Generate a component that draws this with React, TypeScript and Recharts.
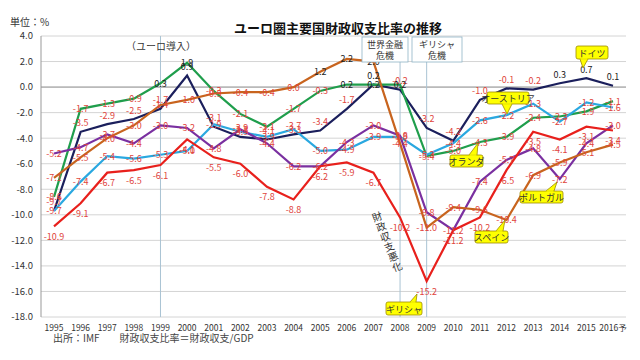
import React from 'react';
import { LineChart, Line, XAxis, YAxis, CartesianGrid, ReferenceLine, LabelList } from 'recharts';

const years = ['1995','1996','1997','1998','1999','2000','2001','2002','2003','2004','2005','2006','2007','2008','2009','2010','2011','2012','2013','2014','2015','2016予'];
const germany = [-9.7,-3.5,-2.9,-2.5,-1.7,0.9,-3.1,-3.9,-4.1,-3.7,-3.4,-1.7,0.2,-0.2,-3.2,-4.2,-1.0,-0.1,-0.2,0.3,0.7,0.1];
const netherlands = [-8.6,-1.7,-1.3,-0.9,0.3,1.9,-0.3,-2.1,-3.1,-1.7,-0.3,0.2,0.2,0.2,-5.4,-5.0,-4.3,-3.9,-2.4,-2.3,-1.9,-1.1];
const austria = [-9.7,-7.4,-5.4,-5.6,-5.3,-5.0,-2.9,-3.5,-3.9,-3.3,-5.0,-4.9,-3.9,-3.9,-5.3,-4.4,-2.6,-2.2,-1.3,-2.7,-1.2,-1.6];
const portugal = [-5.2,-4.7,-3.7,-4.4,-3.0,-3.2,-4.8,-3.3,-4.4,-6.2,-6.2,-4.3,-3.0,-3.8,-9.8,-11.2,-7.4,-5.7,-4.8,-7.2,-4.4,-3.0];
const spain = [-7.1,-5.5,-4.0,-3.0,-1.4,-1.0,-0.5,-0.4,-0.4,0.0,1.2,2.2,2.0,-4.4,-11.0,-9.4,-9.6,-10.4,-6.9,-5.9,-5.1,-4.5];
const greece = [-10.9,-9.1,-6.7,-6.5,-6.1,-4.1,-5.5,-6.0,-7.8,-8.8,-6.2,-5.9,-6.7,-10.2,-15.2,-11.2,-10.2,-6.5,-3.5,-4.1,-3.1,-3.4];
const yTicks = [4,2,0,-2,-4,-6,-8,-10,-12,-14,-16,-18];

const data = years.map((y, i) => ({
  year: y,
  de: germany[i],
  nl: netherlands[i],
  at: austria[i],
  pt: portugal[i],
  es: spain[i],
  gr: greece[i],
}));

const FONT = '"Noto Sans CJK JP", "Noto Sans", sans-serif';

function makeLabel(dy: number) {
  return (p: any) => {
    const { x, y, value } = p;
    if (value == null) return null;
    const red = value <= 0;
    return (
      <text x={x} y={y + dy} textAnchor="middle" dominantBaseline="central" fontSize={9}
        fill={red ? '#e0443c' : '#222'} fontFamily={FONT}>
        {Number(value).toFixed(1)}
      </text>
    );
  };
}

const series = [
  { key: 'de', color: '#1b1f5c', dy: -9 },
  { key: 'nl', color: '#1f9e4c', dy: 0 },
  { key: 'at', color: '#2aa8e0', dy: 0 },
  { key: 'pt', color: '#7a30a0', dy: 0 },
  { key: 'es', color: '#c8641e', dy: 0 },
  { key: 'gr', color: '#e8201c', dy: 10 },
];

function Callout({ x, y, w, h, text, bx1, bx2, by, tx, ty }: any) {
  return (
    <g>
      <path d={`M${bx1},${by} L${tx},${ty} L${bx2},${by}`} fill="#ffff00" stroke="#9c8c00" strokeWidth={0.8} />
      <rect x={x} y={y} width={w} height={h} rx={2} fill="#ffff00" stroke="#9c8c00" strokeWidth={0.8} />
      <line x1={bx1 + 0.6} y1={by} x2={bx2 - 0.6} y2={by} stroke="#ffff00" strokeWidth={1.4} />
      <text x={x + w / 2} y={y + h / 2 + 0.5} textAnchor="middle" dominantBaseline="central" fontSize={9} fill="#333" fontFamily={FONT}>{text}</text>
    </g>
  );
}

const slantChars = ['財', '政', '収', '支', '悪', '化'];

export default function App() {
  return (
    <div style={{ position: 'absolute', left: 0, top: 0, width: 640, height: 360, background: '#fff', fontFamily: FONT }}>
      <LineChart width={640} height={360} data={data} margin={{ top: 36, right: 14, bottom: 23, left: 6 }}>
        <CartesianGrid vertical={false} stroke="#d4d4d4" />
        <XAxis dataKey="year" interval={0} padding={{ left: 13, right: 13 }} axisLine={false} tickLine={false}
          height={20} tick={{ fontSize: 8.5, fill: '#333', fontFamily: FONT }} tickMargin={2} />
        <YAxis domain={[-18, 4]} ticks={yTicks} width={35} axisLine={{ stroke: '#999' }} tickLine={false}
          tickFormatter={(v: number) => v.toFixed(1)} tick={{ fontSize: 9.5, fill: '#333', fontFamily: FONT }} />
        <ReferenceLine y={0} stroke="#9a9a9a" />
        <ReferenceLine segment={[{ x: '1999', y: -18 }, { x: '1999', y: 4 }]} stroke="#a9c3d3" />
        <ReferenceLine segment={[{ x: '2008', y: -18 }, { x: '2008', y: 2 }]} stroke="#a9c3d3" />
        <ReferenceLine segment={[{ x: '2009', y: -18 }, { x: '2009', y: 2 }]} stroke="#a9c3d3" />
        {series.map(s => (
          <Line key={s.key} dataKey={s.key} stroke={s.color} strokeWidth={2.2} dot={false} isAnimationActive={false}>
            <LabelList dataKey={s.key} content={makeLabel(s.dy)} />
          </Line>
        ))}
      </LineChart>
      <svg width={640} height={360} style={{ position: 'absolute', left: 0, top: 0, pointerEvents: 'none' }} fontFamily={FONT}>
        <text x={338} y={27} textAnchor="middle" dominantBaseline="central" fontSize={13} fontWeight="bold" fill="#111">ユーロ圏主要国財政収支比率の推移</text>
        <text x={10} y={21} dominantBaseline="central" fontSize={10} fill="#333">単位：%</text>
        <text x={161} y={45} textAnchor="middle" dominantBaseline="central" fontSize={10} fill="#333">（ユーロ導入）</text>
        <rect x={362} y={37} width={46} height={25} fill="#fff" stroke="#8fb3c6" strokeWidth={0.8} />
        <text x={385} y={44} textAnchor="middle" dominantBaseline="central" fontSize={9} fill="#333">世界金融</text>
        <text x={385} y={55} textAnchor="middle" dominantBaseline="central" fontSize={9} fill="#333">危機</text>
        <rect x={412} y={37} width={50} height={25} fill="#fff" stroke="#8fb3c6" strokeWidth={0.8} />
        <text x={437} y={44} textAnchor="middle" dominantBaseline="central" fontSize={9} fill="#333">ギリシャ</text>
        <text x={437} y={55} textAnchor="middle" dominantBaseline="central" fontSize={9} fill="#333">危機</text>
        {slantChars.map((c, i) => {
          const cx = 377 + i * 4;
          const cy = 216 + i * 10;
          return (
            <text key={i} x={cx} y={cy} textAnchor="middle" dominantBaseline="central" fontSize={10} fill="#333"
              transform={`rotate(-20 ${cx} ${cy})`}>{c}</text>
          );
        })}
        <Callout x={576} y={46} w={32} h={13} text="ドイツ" bx1={580} bx2={588} by={59} tx={583} ty={68} />
        <Callout x={487} y={92} w={42} h={12} text="オーストリア" bx1={502} bx2={512} by={104} tx={507} ty={114} />
        <Callout x={450} y={155} w={33} h={12} text="オランダ" bx1={469} bx2={477} by={155} tx={478} ty={143} />
        <Callout x={520} y={191} w={43} h={12} text="ポルトガル" bx1={546} bx2={554} by={191} tx={557} ty={182} />
        <Callout x={475} y={231} w={33} h={12} text="スペイン" bx1={496} bx2={503} by={231} tx={505} ty={220} />
        <Callout x={386} y={302} w={36} h={13} text="ギリシャ" bx1={410} bx2={416} by={302} tx={417} ty={294} />
        <text x={53} y={337} dominantBaseline="central" fontSize={10} fill="#444">出所：IMF　　財政収支比率＝財政収支/GDP</text>
      </svg>
    </div>
  );
}
